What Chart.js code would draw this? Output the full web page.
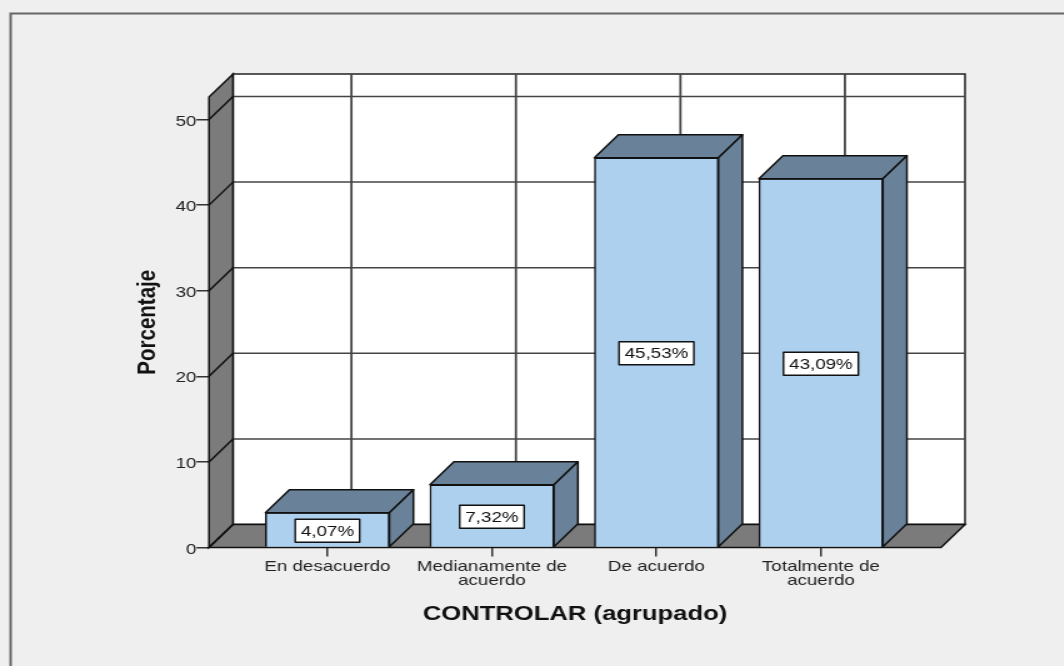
<!DOCTYPE html>
<html>
<head>
<meta charset="utf-8">
<style>
  html, body { margin: 0; padding: 0; background: #efefef; overflow: hidden; }
  #wrap { width: 1064px; height: 666px; overflow: hidden; }
  /* the original picture is a stretched image, so the whole canvas gets stretched too */
  #chart { display: block; transform-origin: 0 0; transform: scaleX(1.25); }
</style>
</head>
<body>
<div id="wrap"><canvas id="chart" width="851" height="666" style="width:851px;height:666px"></canvas></div>
<script src="https://cdn.jsdelivr.net/npm/chart.js@4/dist/chart.umd.min.js"></script>
<script>
const categories = [
  'En desacuerdo',
  ['Medianamente de', 'acuerdo'],
  'De acuerdo',
  ['Totalmente de', 'acuerdo']
];
const porcentajes = [4.07, 7.32, 45.53, 43.09];
const valueLabels = ['4,07%', '7,32%', '45,53%', '43,09%'];
const yTicks = [0, 10, 20, 30, 40, 50];

const depthX = 19.2;
const depthY = 23;
const fontName = "'Liberation Sans', Arial, sans-serif";

function poly(ctx, pts, fill) {
  ctx.beginPath();
  pts.forEach((p, i) => i ? ctx.lineTo(p[0], p[1]) : ctx.moveTo(p[0], p[1]));
  ctx.closePath();
  if (fill) {
    ctx.fillStyle = fill;
    ctx.fill();
  }
  ctx.stroke();
}

const box3d = {
  id: 'box3d',
  beforeDraw(chart) {
    const ctx = chart.ctx;
    ctx.save();
    ctx.fillStyle = '#efefef';
    ctx.fillRect(0, 0, chart.width, chart.height);
    // the frame only shows on the top and left
    ctx.strokeStyle = '#666';
    ctx.lineWidth = 2;
    ctx.beginPath();
    ctx.moveTo(8.5, chart.height);
    ctx.lineTo(8.5, 13.5);
    ctx.lineTo(chart.width, 13.5);
    ctx.stroke();
    ctx.restore();
  },
  beforeDatasetsDraw(chart) {
    const ctx = chart.ctx;
    const a = chart.chartArea;
    const x = chart.scales.x;
    const y = chart.scales.y;
    ctx.save();
    ctx.strokeStyle = '#222';
    ctx.lineWidth = 1.5;
    // back wall
    poly(ctx, [[a.left + depthX, a.top - depthY], [a.right + depthX, a.top - depthY],
      [a.right + depthX, a.bottom - depthY], [a.left + depthX, a.bottom - depthY]], '#fff');
    // grid on the back wall
    ctx.strokeStyle = '#444';
    yTicks.forEach(v => {
      const py = y.getPixelForValue(v) - depthY;
      ctx.beginPath();
      ctx.moveTo(a.left + depthX, py);
      ctx.lineTo(a.right + depthX, py);
      ctx.stroke();
    });
    ctx.lineWidth = 1.8;
    categories.forEach((c, i) => {
      const px = x.getPixelForValue(i) + depthX;
      ctx.beginPath();
      ctx.moveTo(px, a.top - depthY);
      ctx.lineTo(px, a.bottom - depthY);
      ctx.stroke();
    });
    // left wall and floor
    ctx.lineWidth = 1.5;
    ctx.strokeStyle = '#111';
    poly(ctx, [[a.left, a.top], [a.left + depthX, a.top - depthY],
      [a.left + depthX, a.bottom - depthY], [a.left, a.bottom]], '#7b7b7b');
    poly(ctx, [[a.left, a.bottom], [a.left + depthX, a.bottom - depthY],
      [a.right + depthX, a.bottom - depthY], [a.right, a.bottom]], '#7b7b7b');
    yTicks.forEach(v => {
      const py = y.getPixelForValue(v);
      ctx.beginPath();
      ctx.moveTo(a.left, py);
      ctx.lineTo(a.left + depthX, py - depthY);
      ctx.stroke();
    });
    ctx.restore();
  },
  afterDatasetsDraw(chart) {
    const ctx = chart.ctx;
    const bars = chart.getDatasetMeta(0).data;
    ctx.save();
    bars.forEach((bar, i) => {
      const l = bar.x - bar.width / 2;
      const r = bar.x + bar.width / 2;
      const t = bar.y;
      const b = bar.base;
      ctx.strokeStyle = '#111';
      ctx.lineWidth = 1.5;
      ctx.lineJoin = 'round';
      poly(ctx, [[l, t], [l + depthX, t - depthY], [r + depthX, t - depthY], [r, t]], '#6a8299');
      poly(ctx, [[r, t], [r + depthX, t - depthY], [r + depthX, b - depthY], [r, b]], '#6a8299');

      // value label
      ctx.font = '15px ' + fontName;
      const w = ctx.measureText(valueLabels[i]).width + 9;
      const h = 23;
      const my = (t + b) / 2 + 1;
      ctx.fillStyle = '#fff';
      ctx.strokeStyle = '#111';
      ctx.lineWidth = 1.4;
      ctx.fillRect(bar.x - w / 2, my - h / 2, w, h);
      ctx.strokeRect(bar.x - w / 2, my - h / 2, w, h);
      ctx.fillStyle = '#111';
      ctx.textAlign = 'center';
      ctx.textBaseline = 'middle';
      ctx.fillText(valueLabels[i], bar.x, my + 1);
    });
    ctx.restore();
  }
};

new Chart(document.getElementById('chart'), {
  type: 'bar',
  data: {
    datasets: [{
      data: porcentajes.map((v, i) => ({ x: i, y: v })),
      backgroundColor: '#add0ee',
      borderColor: '#111',
      borderWidth: 1.5,
      barThickness: 99.2
    }]
  },
  options: {
    responsive: false,
    animation: false,
    layout: { padding: { top: 97, right: 98.2, bottom: 39.5, left: 101.8 } },
    plugins: { legend: { display: false }, tooltip: { enabled: false } },
    scales: {
      x: {
        type: 'linear',
        offset: false,
        min: -0.72,
        max: 3.73,
        afterBuildTicks: s => { s.ticks = categories.map((c, i) => ({ value: i })); },
        afterFit: s => { s.height = 79; },
        grid: { offset: false, drawOnChartArea: false, drawTicks: true, tickLength: 9, color: '#333', lineWidth: 1.5 },
        border: { display: false },
        ticks: {
          color: '#222',
          padding: 3,
          maxRotation: 0,
          autoSkip: false,
          font: { family: fontName, size: 15, lineHeight: 0.93 },
          callback: v => categories[v]
        },
        title: {
          display: true,
          text: 'CONTROLAR (agrupado)',
          color: '#111',
          padding: { top: 12, bottom: 0 },
          font: { family: fontName, size: 20.5, weight: 'bold' }
        }
      },
      y: {
        min: 0,
        max: 52.63,
        afterBuildTicks: s => { s.ticks = yTicks.map(v => ({ value: v })); },
        afterFit: s => { s.width = 65.4; },
        grid: { drawOnChartArea: false, drawTicks: true, tickLength: 10, color: '#333', lineWidth: 1.5 },
        border: { display: false },
        ticks: {
          color: '#222',
          padding: 0,
          labelOffset: 2,
          font: { family: fontName, size: 15 }
        },
        title: {
          display: true,
          text: 'Porcentaje',
          color: '#111',
          font: { family: fontName, size: 20.5, weight: 'bold' }
        }
      }
    }
  },
  plugins: [box3d]
});
</script>
</body>
</html>
